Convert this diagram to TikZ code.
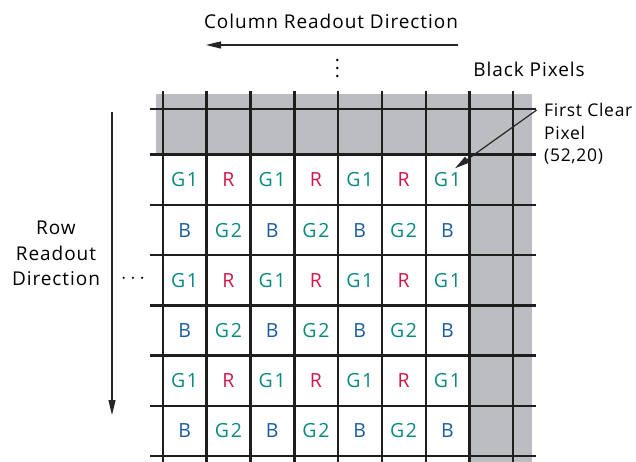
\documentclass[tikz,border=0pt]{standalone}
\usepackage{fontspec}
\setmainfont{Open Sans}
\usetikzlibrary{arrows.meta}
\definecolor{gcol}{HTML}{0A8A7E}
\definecolor{rcol}{HTML}{D2164A}
\definecolor{bcol}{HTML}{1A5CA0}
\definecolor{pixgray}{HTML}{BCBDC0}
\definecolor{gridk}{HTML}{1E1E1E}
\tikzset{
  gridline/.style={draw=gridk, line width=2.4pt},
  cell/.style={font=\fontsize{19.5}{21}\selectfont\addfontfeature{LetterSpace=9}, inner sep=0pt},
  G/.style={cell, text=gcol},
  R/.style={cell, text=rcol},
  B/.style={cell, text=bcol},
  lbl/.style={font=\fontsize{19}{25}\selectfont\addfontfeature{LetterSpace=5}, text=black, inner sep=0pt},
  small/.style={font=\fontsize{17.5}{23.5}\selectfont\addfontfeature{LetterSpace=4}, text=black, inner sep=0pt},
  dotstyle/.style={inner sep=0pt, font=\fontsize{19}{19}\selectfont},
  arr/.style={draw=black!85, line width=1.2pt, -{Triangle[length=15pt,width=7pt]}}
}
\begin{document}
\begin{tikzpicture}[x=1pt,y=-1pt]
\useasboundingbox (0,0) rectangle (636,462);
% gray black-pixel regions
\fill[pixgray] (156,94) rectangle (531.7,155);
\fill[pixgray] (469.3,94) rectangle (531.7,462);
% grid
\foreach \x in {162.7,206.5,250.5,294.3,338.2,382.1,425.9,469.5,512.9}
  \draw[gridline] (\x,91) -- (\x,462);
\foreach \y in {109.3,154.7,204.9,255.1,305.3,355.5,405.7,455.9}
  \draw[gridline] (150,\y) -- (535.7,\y);
% cells
\foreach \r [count=\i] in {1,...,6}{
  \pgfmathsetmacro{\yy}{129.8+50.2*\i}
  \pgfmathtruncatemacro{\odd}{mod(\i,2)}
  \foreach \c [count=\j] in {1,...,7}{
    \pgfmathsetmacro{\xx}{140.8+43.8*\j}
    \pgfmathtruncatemacro{\oc}{mod(\j,2)}
    \ifnum\odd=1
      \ifnum\oc=1
        \node[G] (c-\i-\j) at (\xx,\yy) {G1};
      \else
        \node[R] (c-\i-\j) at (\xx,\yy) {R};
      \fi
    \else
      \ifnum\oc=1
        \node[B] (c-\i-\j) at (\xx,\yy) {B};
      \else
        \node[G] (c-\i-\j) at (\xx,\yy) {G2};
      \fi
    \fi
  }
}
% labels
\node[lbl] (coltxt) at (331,21) {Column Readout Direction};
\coordinate (colstart) at (458,45);
\coordinate (colend) at (206,45);
\draw[arr] (colstart) -- (colend);
\node[dotstyle, anchor=base] (vdots) at (337.5,62) {.};
\node[dotstyle, anchor=base] (vdots2) at (337.5,70) {.};
\node[dotstyle, anchor=base] (vdots3) at (337.5,78) {.};
\node[lbl] (black) at (529,69) {Black Pixels};
\node[small, align=left, anchor=west] (first) at (544,110) {First Clear};
\node[small, anchor=west] (first2) at (544,133) {Pixel};
\node[small, anchor=west] (first3) at (544,157) {(52,20)};
\coordinate (firststart) at (536.7,110);
\coordinate (firstend) at (455,168.3);
\draw[arr] (firststart) -- (firstend);
\node[lbl] (row1) at (56,228) {Row};
\node[lbl] (row2) at (56,253) {Readout};
\node[lbl] (row3) at (56,279) {Direction};
\coordinate (rowstart) at (112,112);
\coordinate (rowend) at (112,415);
\draw[arr] (rowstart) -- (rowend);
\node[inner sep=0pt, font=\fontsize{20}{20}\selectfont] (hdots) at (133,279) {$\cdots$};
\end{tikzpicture}
\end{document}
